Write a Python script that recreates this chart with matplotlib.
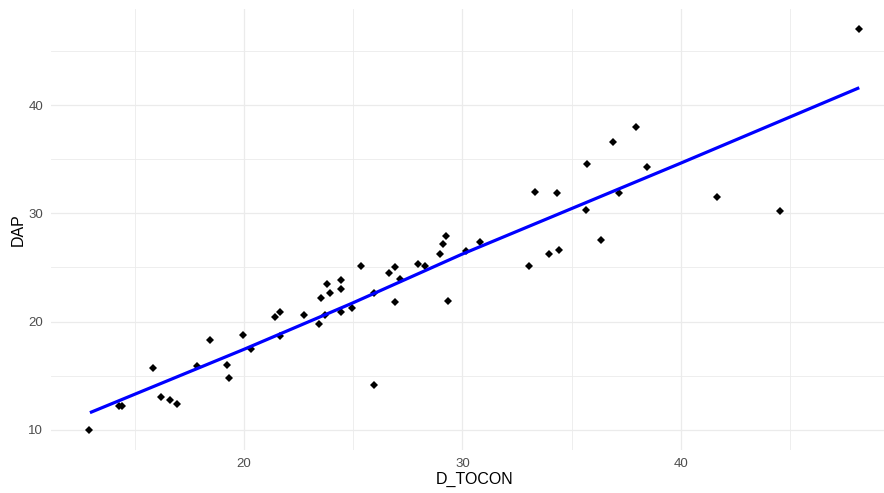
import numpy as np
import matplotlib
matplotlib.use("Agg")
import matplotlib.pyplot as plt
from matplotlib.ticker import MultipleLocator

plt.rcParams['font.family'] = ['Liberation Sans', 'DejaVu Sans']

# points (D_TOCON, DAP)
d_tocon = [12.92, 14.29, 14.42, 15.85, 16.2, 16.6, 16.92, 17.86, 18.43, 19.22,
           19.31, 19.97, 20.33, 21.43, 21.63, 21.63, 22.73, 23.45, 23.52, 23.71,
           23.8, 23.94, 24.43, 24.43, 24.43, 24.93, 25.35, 25.94, 25.94, 26.64,
           26.91, 26.91, 27.14, 27.98, 28.28, 28.97, 29.12, 29.25, 29.32, 30.15,
           30.82, 33.04, 33.32, 33.94, 34.31, 34.42, 35.64, 35.71, 36.34, 36.87,
           37.18, 37.93, 38.43, 41.63, 44.52, 48.16]
dap = [10.0, 12.23, 12.23, 15.74, 13.07, 12.79, 12.42, 15.93, 18.33, 16.02,
       14.82, 18.79, 17.47, 20.45, 20.86, 18.67, 20.64, 19.81, 22.21, 20.58,
       23.5, 22.67, 23.87, 23.0, 20.92, 21.29, 25.16, 22.61, 14.17, 24.52,
       25.07, 21.84, 23.96, 25.35, 25.17, 26.27, 27.17, 27.93, 21.93, 26.49,
       27.35, 25.16, 31.99, 26.27, 31.9, 26.64, 30.33, 34.58, 27.56, 36.61,
       31.9, 38.0, 34.3, 31.53, 30.21, 47.05]

# fitted line vertices
fit_x = [12.95, 20.0, 24.94, 29.96, 39.95, 48.16]
fit_y = [11.59, 17.44, 21.69, 26.21, 34.6, 41.6]

fig = plt.figure(figsize=(8.84, 4.93), dpi=100)
ax = fig.add_axes([0.0575, 0.0874, 0.958, 0.895])

ax.plot(d_tocon, dap, 'D', color='black', markersize=4.2, markeredgewidth=0, zorder=3)
ax.plot(fit_x, fit_y, color='#0000FF', linewidth=2.3, zorder=4, solid_capstyle='butt')

ax.set_xlim(11.16, 49.92)
ax.set_ylim(8.15, 48.9)
ax.xaxis.set_major_locator(MultipleLocator(10))
ax.xaxis.set_minor_locator(MultipleLocator(5))
ax.yaxis.set_major_locator(MultipleLocator(10))
ax.yaxis.set_minor_locator(MultipleLocator(5))

ax.grid(which='major', color='#EBEBEB', linewidth=0.9)
ax.grid(which='minor', color='#EBEBEB', linewidth=0.6)
ax.set_axisbelow(True)
for s in ax.spines.values():
    s.set_visible(False)

ax.tick_params(which='both', length=0)
ax.tick_params(axis='x', pad=5.5, labelsize=9.5, labelcolor='#4D4D4D')
ax.tick_params(axis='y', pad=5.5, labelsize=9.5, labelcolor='#4D4D4D')

ax.set_xlabel('D_TOCON', fontsize=11.5, labelpad=2)
ax.set_ylabel('DAP', fontsize=11.5, labelpad=2)

fig.savefig('out.png', dpi=100)
